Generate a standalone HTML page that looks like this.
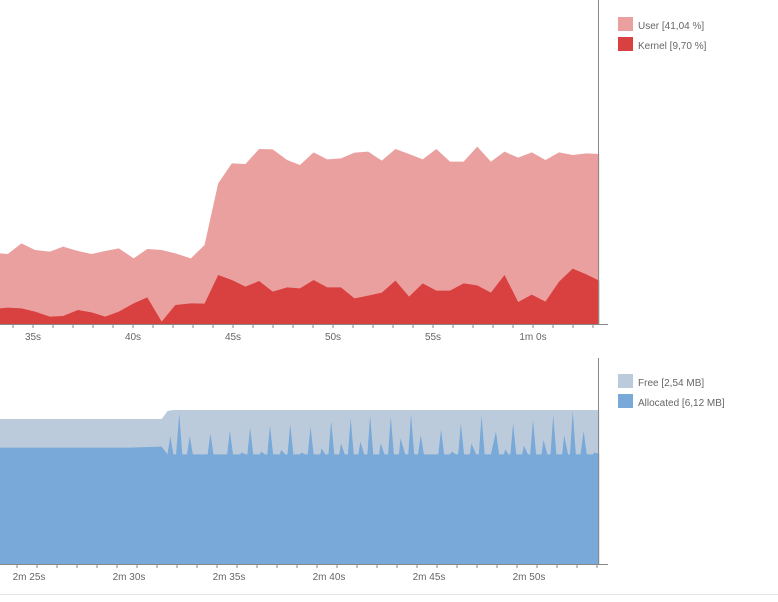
<!DOCTYPE html>
<html><head><meta charset="utf-8"><style>
html,body{margin:0;padding:0;background:#fff;width:778px;height:602px;overflow:hidden}
svg text{font-family:"Liberation Sans",sans-serif;font-size:10px;fill:#666}
</style></head><body>
<svg width="778" height="602" viewBox="0 0 778 602" xmlns="http://www.w3.org/2000/svg">
<g transform="translate(0,130) scale(0.3896,0.33333)">
<polygon fill="#eba0a0" points="0,582 0,370 20,372 55,340 90,360 128,365 162,350 200,363 235,372 270,363 305,355 343,385 378,357 415,360 450,370 490,385 525,345 560,160 595,100 630,102 665,57 700,58 737,90 770,105 805,67 840,88 875,85 910,68 945,65 980,92 1015,57 1050,72 1085,88 1120,57 1155,95 1190,95 1225,50 1260,95 1295,65 1330,83 1365,67 1400,90 1435,67 1470,75 1505,70 1538,72 1538,582"/>
<polygon fill="#d94040" points="0,582 0,535 20,533 55,535 90,545 128,560 162,558 200,540 235,547 270,560 305,545 343,520 378,502 415,575 450,525 490,520 525,521 560,435 595,450 630,470 665,453 700,485 737,472 770,475 805,450 840,472 875,472 910,505 945,497 980,488 1015,452 1050,500 1085,460 1120,482 1155,482 1190,460 1225,466 1260,488 1295,435 1330,516 1365,494 1400,515 1435,455 1470,416 1505,433 1538,452 1538,582"/>
</g>
<g transform="translate(0,400) scale(0.3896,0.33333)">
<polygon fill="#bccbdb" points="0,492 0,57 415,57 430,33 445,30 1538,30 1538,492"/>
<polygon fill="#78a9d8" points="0,492 0,143 330,143 415,140 430,163 437,108 445,163 452,163 460,40 468,163 480,163 487,108 495,163 533,163 540,100 548,163 583,163 590,92 598,163 617,163 620,157 630,163 635,163 642,82 650,163 667,163 670,155 680,163 686,163 693,77 701,163 718,163 722,150 732,163 738,163 745,73 753,163 770,163 773,158 783,163 790,163 797,80 805,163 822,163 825,145 835,163 843,163 850,63 858,163 871,163 875,130 885,163 893,163 900,55 908,163 920,163 925,125 935,163 943,163 950,47 958,163 973,163 977,130 987,163 996,163 1003,50 1011,163 1024,163 1028,115 1040,163 1048,163 1055,42 1063,163 1073,163 1080,105 1088,163 1125,163 1132,88 1140,163 1155,163 1160,155 1170,163 1176,163 1183,70 1191,163 1206,163 1210,130 1222,163 1229,163 1236,47 1244,163 1260,163 1273,95 1281,163 1293,163 1297,148 1305,163 1310,163 1317,70 1325,163 1340,163 1345,137 1355,163 1361,163 1368,58 1376,163 1390,163 1395,120 1405,163 1413,163 1420,45 1428,163 1443,163 1448,105 1458,163 1463,163 1470,33 1478,163 1490,163 1498,93 1506,163 1522,163 1525,158 1538,161 1538,492"/>
</g>
<!-- top axes -->
<line x1="598.5" y1="0" x2="598.5" y2="325" stroke="#888"/>
<line x1="0" y1="324.5" x2="608" y2="324.5" stroke="#888"/>
<g stroke="#888">
<path d="M13 324v4M33 324v4M53 324v4M73 324v4M93 324v4M113 324v4M133 324v4M153 324v4M173 324v4M193 324v4M213 324v4M233 324v4M253 324v4M273 324v4M293 324v4M313 324v4M333 324v4M353 324v4M373 324v4M393 324v4M413 324v4M433 324v4M453 324v4M473 324v4M493 324v4M513 324v4M533 324v4M553 324v4M573 324v4M593 324v4"/>
</g>
<g text-anchor="middle">
<text x="33" y="340">35s</text><text x="133" y="340">40s</text><text x="233" y="340">45s</text><text x="333" y="340">50s</text><text x="433" y="340">55s</text><text x="533" y="340">1m 0s</text>
</g>
<!-- bottom axes -->
<line x1="598.5" y1="358" x2="598.5" y2="565" stroke="#888"/>
<line x1="0" y1="564.5" x2="608" y2="564.5" stroke="#888"/>
<g stroke="#888">
<path d="M17 564v4M37 564v4M57 564v4M77 564v4M97 564v4M117 564v4M137 564v4M157 564v4M177 564v4M197 564v4M217 564v4M237 564v4M257 564v4M277 564v4M297 564v4M317 564v4M337 564v4M357 564v4M377 564v4M397 564v4M417 564v4M437 564v4M457 564v4M477 564v4M497 564v4M517 564v4M537 564v4M557 564v4M577 564v4M597 564v4"/>
</g>
<g text-anchor="middle">
<text x="29" y="580">2m 25s</text><text x="129" y="580">2m 30s</text><text x="229" y="580">2m 35s</text><text x="329" y="580">2m 40s</text><text x="429" y="580">2m 45s</text><text x="529" y="580">2m 50s</text>
</g>
<line x1="0" y1="594.5" x2="778" y2="594.5" stroke="#e4e4e4"/>
<!-- legends -->
<rect x="618" y="17" width="15" height="14" fill="#eba0a0"/><text x="638" y="29">User [41,04 %]</text>
<rect x="618" y="37" width="15" height="14" fill="#d94040"/><text x="638" y="49">Kernel [9,70 %]</text>
<rect x="618" y="374" width="15" height="14" fill="#bccbdb"/><text x="638" y="386">Free [2,54 MB]</text>
<rect x="618" y="394" width="15" height="14" fill="#78a9d8"/><text x="638" y="406">Allocated [6,12 MB]</text>
</svg>
</body></html>
